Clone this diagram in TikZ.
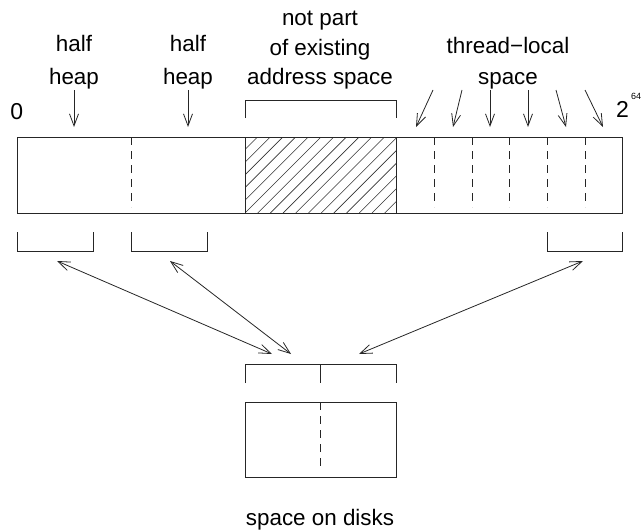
\documentclass[tikz,border=0pt]{standalone}
\usepackage{fontspec}
\setmainfont{Liberation Sans}
\usetikzlibrary{arrows.meta}
\begin{document}
\begin{tikzpicture}[x=1pt,y=-1pt,
  lw/.style={line width=0.8pt,draw=black!85},
  lbl/.style={font=\fontsize{22.4}{26}\selectfont,anchor=base,inner sep=0pt},
  dsh/.style={lw,dash pattern=on 8pt off 6pt},
  arr/.style={lw,-{Straight Barb[length=12pt,width=9pt,line width=0.8pt]}},
  darr/.style={lw,{Straight Barb[length=12pt,width=9pt,line width=0.8pt]}-{Straight Barb[length=12pt,width=9pt,line width=0.8pt]}}]
\useasboundingbox (0,0) rectangle (641,530);
% main bar
\coordinate (bTL) at (17,137);
\coordinate (bBR) at (622,213);
\begin{scope}
  \clip (245,137) rectangle (396,213);
  \foreach \k in {-7,...,12} {
    \draw[line width=0.6pt,black!80] (245+\k*12.7,213) -- ++(76,-76);
  }
\end{scope}
\draw[lw] (bTL) rectangle (bBR);
\draw[lw] (245,137) -- (245,213);
\draw[lw] (396,137) -- (396,213);
\foreach \x in {131,434,472,509,547,585} {
  \draw[dsh] (\x,137) -- (\x,207);
}
% labels
\node[lbl] (h1a) at (74,52) {half};
\node[lbl] (h1b) at (74,84) {heap};
\node[lbl] (h2a) at (188,52) {half};
\node[lbl] (h2b) at (188,84) {heap};
\node[lbl] (n1) at (320,26) {not part};
\node[lbl] (n2) at (320,55) {of existing};
\node[lbl] (n3) at (320,84) {address space};
\node[lbl] (t1) at (508,53) {thread−local};
\node[lbl] (t2) at (508,84) {space};
\node[font=\fontsize{23}{26}\selectfont,inner sep=0pt] (zero) at (16.7,111.7) {0};
\node[font=\fontsize{23}{26}\selectfont,inner sep=0pt] (two) at (622.5,109) {2};
\node[font=\fontsize{9}{10}\selectfont,inner sep=0pt,anchor=west] (sixtyfour) at (631,96.5) {64};
% bracket over hatched
\coordinate (nb1) at (245,118);
\coordinate (nb2) at (396,118);
\draw[lw] (nb1) -- (245,100) -- (396,100) -- (nb2);
% down arrows
\coordinate (a1s) at (74,90);   \coordinate (a1e) at (74,127);
\coordinate (a2s) at (188,90);  \coordinate (a2e) at (188,127);
\draw[arr] (a1s) -- (a1e);
\draw[arr] (a2s) -- (a2e);
\coordinate (t1s) at (433,90); \coordinate (t1e) at (416,127);
\coordinate (t2s) at (462,90); \coordinate (t2e) at (453,127);
\coordinate (t3s) at (490,90); \coordinate (t3e) at (490,127);
\coordinate (t4s) at (528,90); \coordinate (t4e) at (528,127);
\coordinate (t5s) at (556,90); \coordinate (t5e) at (566,127);
\coordinate (t6s) at (585,90); \coordinate (t6e) at (603,127);
\foreach \i in {1,...,6} { \draw[arr] (t\i s) -- (t\i e); }
% lower brackets
\draw[lw] (17,232) -- (17,251) -- (93,251) -- (93,232);
\draw[lw] (131,232) -- (131,251) -- (207,251) -- (207,232);
\draw[lw] (547,232) -- (547,251) -- (622,251) -- (622,232);
% disk bracket
\draw[lw] (245,383) -- (245,364) -- (396,364) -- (396,383);
\draw[lw] (320,364) -- (320,383);
% disk box
\draw[lw] (245,402) rectangle (396,477);
\draw[dsh] (320,402) -- (320,469);
\node[lbl] (disks) at (320,525) {space on disks};
% double arrows
\coordinate (d1a) at (57,261);  \coordinate (d1b) at (272,354);
\coordinate (d2a) at (170,261); \coordinate (d2b) at (291,354);
\coordinate (d3a) at (583,261); \coordinate (d3b) at (359,354);
\draw[darr] (d1a) -- (d1b);
\draw[darr] (d2a) -- (d2b);
\draw[darr] (d3a) -- (d3b);
\end{tikzpicture}
\end{document}
